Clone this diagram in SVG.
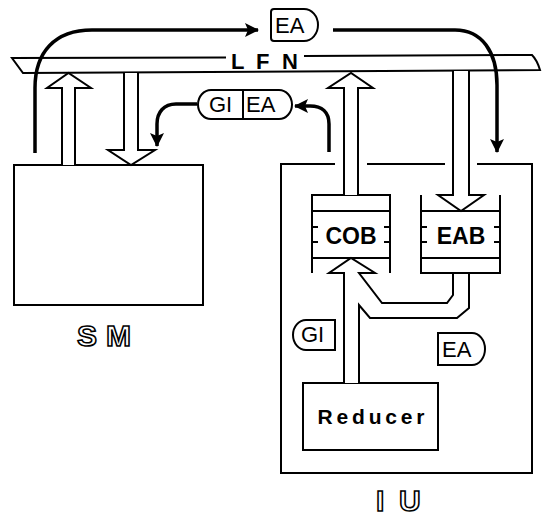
<svg xmlns="http://www.w3.org/2000/svg" width="544" height="518" viewBox="0 0 544 518">
<style>
.ln{fill:none;stroke:#000;stroke-width:2}
.hol{fill:#fff;stroke:#000;stroke-width:2;stroke-linejoin:miter}
.fl{fill:none;stroke:#000;stroke-width:3.5;stroke-linecap:butt}
.lbl{font-family:"Liberation Sans",Arial,sans-serif;font-size:22px;fill:#000}
.bt{font-family:"Liberation Sans",Arial,sans-serif;font-weight:bold;fill:#000}
.ot{font-family:"Liberation Sans",Arial,sans-serif;font-weight:bold;font-size:30px;fill:#fff;stroke:#000;stroke-width:1.6}
</style>
<defs>
<marker id="ah" viewBox="0 0 14 14" refX="13" refY="7" markerWidth="14" markerHeight="14" markerUnits="userSpaceOnUse" orient="auto">
<path d="M0,0 L14,7 L0,14 L3,7 Z" fill="#000"/>
</marker>
</defs>
<rect width="544" height="518" fill="#fff"/>

<g id="lfn">
<path class="ln" d="M226,57.5 L12,58 L23,73 L540,70 Q537,60 532,55 L304,56"/>
<text class="bt" font-size="22" x="231" y="69">L</text>
<text class="bt" font-size="22" x="256" y="69">F</text>
<text class="bt" font-size="22" x="282" y="69">N</text>
</g>

<g id="sm">
<rect class="ln" x="14" y="165" width="189" height="140"/>
<text class="ot" x="77" y="346">S</text>
<text class="ot" x="106" y="346">M</text>
</g>

<g id="iu">
<path class="ln" d="M335,164 H281 V473 H532 V164 H477 M445,164 H367"/>
<text class="ot" x="376" y="511" font-size="26">I</text>
<text class="ot" x="399" y="511" font-size="26">U</text>
</g>

<g id="cob">
<path class="ln" d="M312,273 V195 H390 V273 M312,211 H390 M312,258 H390 M312,227 H318 M312,242 H318 M384,227 H390 M384,242 H390"/>
<text class="bt" font-size="23" x="351" y="244" text-anchor="middle">COB</text>
</g>

<g id="eab">
<path class="ln" d="M421,195 V273 H500 V195 M421,211 H500 M421,258 H500 M421,227 H427 M421,242 H427 M494,227 H500 M494,242 H500"/>
<text class="bt" font-size="23" x="461" y="244" text-anchor="middle">EAB</text>
</g>

<g id="reducer">
<rect class="ln" x="303" y="383" width="135" height="67"/>
<text class="bt" font-size="21" x="371" y="424" text-anchor="middle" textLength="107">Reducer</text>
</g>

<g id="label-ea-top">
<path class="ln" d="M274,9 H304 A14,16 0 0 1 304,41 H274 Q271,41 271,38 V12 Q271,9 274,9 Z"/>
<text class="lbl" x="275" y="33">EA</text>
</g>

<g id="label-gi-ea">
<path class="ln" d="M211,90 H279 A13,14.5 0 0 1 279,119 H211 A13,14.5 0 0 1 211,90 Z M243,90 V119"/>
<text class="lbl" x="209" y="112">GI</text>
<text class="lbl" x="246" y="112">EA</text>
</g>

<g id="label-gi">
<path class="ln" d="M306,320 H335 V350 H306 A13,15 0 0 1 306,320 Z"/>
<text class="lbl" x="301" y="342">GI</text>
</g>

<g id="label-ea">
<path class="ln" d="M438,333 H472 A13,16 0 0 1 472,365 H438 Z"/>
<text class="lbl" x="442" y="357">EA</text>
</g>

<g id="connectors">
<path class="hol" d="M62,165 V88 H47 L68.5,73 L91,88 H75 V165"/>
<path class="hol" d="M124,73 V150 H108 L131,165 L155,150 H138 V73"/>
<path class="hol" d="M344,195 V88 H328 L351,73 L373,88 H358 V195"/>
<path class="hol" d="M453,71 V195 H438 L461,211 L484,195 H469 V71"/>
<path class="hol" d="M344,383 V273 H329 L351,258 L375,273 H359 L382,303 H447 L453,295 V273 H469 V308 L457,318 H370 L359,305 V383"/>
<path class="fl" d="M35,153 V88 C35,52 55,30 92,30 H258" marker-end="url(#ah)"/>
<path class="fl" d="M333,30 H455 C482,30 497,52 497,85 V152" marker-end="url(#ah)"/>
<path class="fl" d="M197,104 H176 C164,104 157,112 157,124 V146" marker-end="url(#ah)"/>
<path class="fl" d="M329,152 V124 C329,112 322,106 310,106 H295" marker-end="url(#ah)"/>
</g>
</svg>
